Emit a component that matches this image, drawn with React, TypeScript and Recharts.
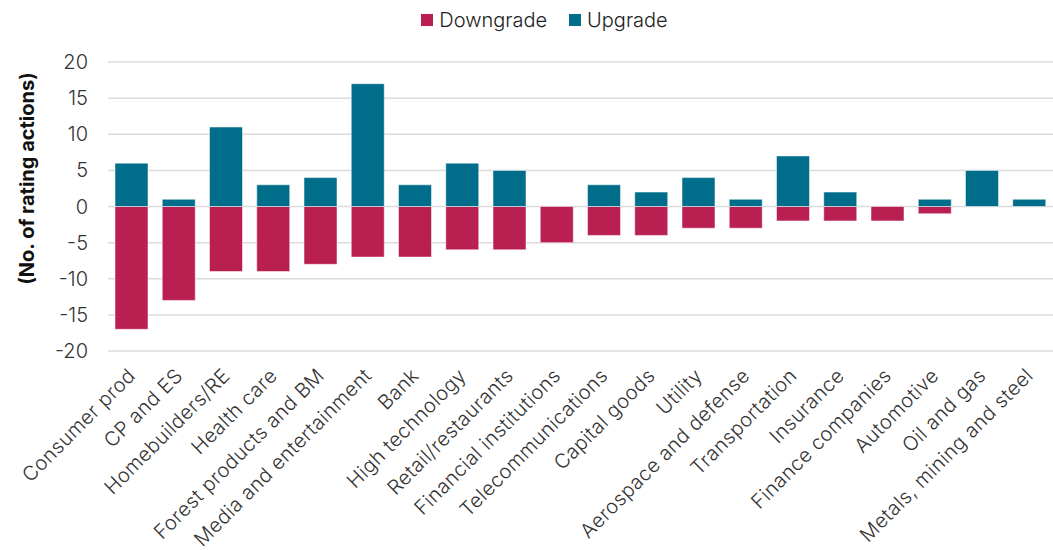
import { BarChart, Bar, XAxis, YAxis, CartesianGrid, Legend } from 'recharts';

const categories = [
  'Consumer prod',
  'CP and ES',
  'Homebuilders/RE',
  'Health care',
  'Forest products and BM',
  'Media and entertainment',
  'Bank',
  'High technology',
  'Retail/restaurants',
  'Financial institutions',
  'Telecommunications',
  'Capital goods',
  'Utility',
  'Aerospace and defense',
  'Transportation',
  'Insurance',
  'Finance companies',
  'Automotive',
  'Oil and gas',
  'Metals, mining and steel',
];

const downgrades = [-17, -13, -9, -9, -8, -7, -7, -6, -6, -5, -4, -4, -3, -3, -2, -2, -2, -1, 0, 0];
const upgrades = [6, 1, 11, 3, 4, 17, 3, 6, 5, 0, 3, 2, 4, 1, 7, 2, 0, 1, 5, 1];

const yTicks = [-20, -15, -10, -5, 0, 5, 10, 15, 20];

const DOWN_COLOR = '#BA1F51';
const UP_COLOR = '#006E8A';
const FONT = 'Inter, "Noto Sans", sans-serif';

const data = categories.map((name, i) => ({
  name,
  Downgrade: downgrades[i],
  Upgrade: upgrades[i],
}));

const AngledTick = ({ x, y, payload }: any) => (
  <text
    x={x + 5}
    y={y + 18}
    transform={`rotate(-45, ${x + 5}, ${y + 18})`}
    textAnchor="end"
    fill="#333"
    fontSize={20}
    fontWeight={300}
    letterSpacing={0.4}
    fontFamily={FONT}
  >
    {payload.value}
  </text>
);

const LegendContent = () => (
  <div
    style={{
      display: 'flex',
      justifyContent: 'center',
      gap: 22,
      fontFamily: FONT,
      fontSize: 20,
      fontWeight: 300,
      color: '#222',
      paddingLeft: 36,
    }}
  >
    {[
      { label: 'Downgrade', color: DOWN_COLOR },
      { label: 'Upgrade', color: UP_COLOR },
    ].map((item) => (
      <span key={item.label} style={{ display: 'flex', alignItems: 'center' }}>
        <span
          style={{
            display: 'inline-block',
            width: 12,
            height: 12,
            background: item.color,
            marginRight: 6,
          }}
        />
        {item.label}
      </span>
    ))}
  </div>
);

export default function App() {
  return (
    <div style={{ position: 'absolute', left: 0, top: 0, background: '#fff' }}>
      <BarChart
        width={1053}
        height={550}
        data={data}
        stackOffset="sign"
        margin={{ top: 30, right: 0, bottom: 0, left: 0 }}
      >
        <Legend
          verticalAlign="top"
          height={32}
          content={<LegendContent />}
          wrapperStyle={{ top: 8 }}
        />
        <CartesianGrid vertical={false} stroke="#dcdcdc" strokeWidth={1.5} />
        <XAxis
          dataKey="name"
          interval={0}
          axisLine={false}
          tickLine={false}
          tick={<AngledTick />}
          height={199}
        />
        <YAxis
          domain={[-20, 20]}
          ticks={yTicks}
          width={108}
          axisLine={false}
          tickLine={false}
          tickMargin={14}
          tick={{ fill: '#333', fontSize: 20, fontWeight: 300, fontFamily: FONT }}
          label={{
            value: '(No. of rating actions)',
            angle: -90,
            position: 'insideLeft',
            dx: 22,
            dy: -28,
            style: { textAnchor: 'middle', fontFamily: FONT, fontSize: 20, fontWeight: 700, fill: '#111' },
          }}
        />
        <Bar
          dataKey="Downgrade"
          stackId="a"
          fill={DOWN_COLOR}
          stroke="#ffffff"
          strokeOpacity={0.5}
          barSize={33}
          isAnimationActive={false}
        />
        <Bar
          dataKey="Upgrade"
          stackId="a"
          fill={UP_COLOR}
          stroke="#ffffff"
          strokeOpacity={0.5}
          barSize={33}
          isAnimationActive={false}
        />
      </BarChart>
    </div>
  );
}
